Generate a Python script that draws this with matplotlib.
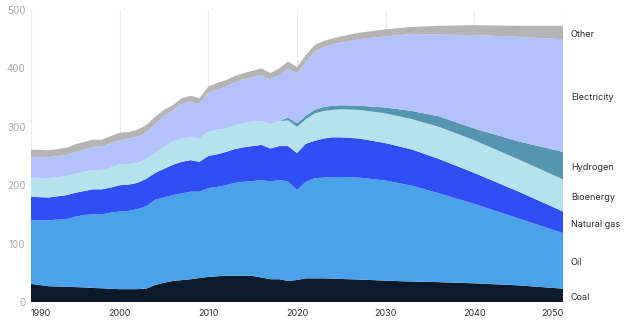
import matplotlib
matplotlib.use('Agg')
import matplotlib.pyplot as plt
import numpy as np

# -- data (values per sector, stacked) --
years = [1990, 1992, 1994, 1995, 1996, 1997, 1998, 1999, 2000, 2001, 2002, 2003,
         2004, 2005, 2006, 2007, 2008, 2009, 2010, 2011, 2012, 2013, 2014, 2015,
         2016, 2017, 2018, 2019, 2020, 2021, 2022, 2023, 2024, 2025, 2027, 2030,
         2033, 2036, 2040, 2045, 2050]

coal = [31, 27, 26, 25.5, 25, 24, 23.5, 22.5, 22, 22, 22, 23,
        29, 33, 36, 37.5, 39, 41, 43, 44, 45, 45, 45, 44.5,
        42, 39, 39, 36, 37.7, 40.5, 40.5, 40.5, 40, 39.4, 38.5, 36.5,
        35, 34, 32, 28.5, 22.8]
oil = [109, 113, 116, 120.5, 124, 126, 126.5, 130.5, 133, 134, 137, 141,
       146, 146, 147, 148.5, 150, 148, 152, 153, 155, 159, 161, 162.5,
       167, 167, 170, 170, 154.3, 165.5, 171.5, 172.5, 174, 174.6, 174.5, 171.5,
       164, 152, 136, 114.5, 95.2]
natural_gas = [40, 39, 41, 41, 41, 43, 43, 43, 45, 45, 45, 47,
               46, 49, 52, 54, 54, 51, 55, 56, 57, 58, 59, 60,
               60, 57, 58, 61, 63, 65, 64, 67, 68, 68, 67, 64,
               62, 59, 53, 46, 37]
bioenergy = [33, 33, 33, 32, 33, 33, 33, 34, 36, 35, 34, 33,
             34, 38, 40, 40, 39, 40, 42, 42, 40, 41, 41, 42,
             41, 42, 43, 44, 45, 42, 47, 47, 47, 48, 49, 51,
             52, 55, 56, 55, 55]
hydrogen = [0, 0, 0, 0, 0, 0, 0, 0, 0, 0, 0, 0,
            0, 0, 0, 0, 0, 0, 0, 0, 0, 0, 0, 0,
            0, 0, 0, 5, 6, 6, 6, 7, 7, 7, 7, 10,
            14, 18, 20, 31, 47]
electricity = [35, 36, 36, 38, 38, 40, 40, 42, 41, 44, 45, 46,
               50, 52, 53, 59, 61, 59, 67, 69, 72, 73, 75, 76,
               78, 76, 79, 84, 85, 92, 100, 102, 105, 107, 114, 122,
               132, 140, 160, 179, 193]
other = [13, 12, 12, 13, 13, 12, 12, 12, 13, 11, 12, 13,
         12, 11, 9, 10, 10, 10, 10, 11, 11, 11, 11, 11,
         12, 11, 11, 12, 11, 12, 11, 11, 10, 11, 11, 12,
         12, 15, 17, 19, 23]

labels = ['Coal', 'Oil', 'Natural gas', 'Bioenergy', 'Hydrogen', 'Electricity', 'Other']
colors = ['#0d1a2b', '#4aa3ea', '#2f4ff5', '#b6e2ee', '#5595b0', '#b3c2fb', '#b4b4b4']

plt.rcParams['font.family'] = ['Inter', 'DejaVu Sans']

fig = plt.figure(figsize=(6.4, 3.25), dpi=100)
ax = fig.add_axes([31/640, 1 - 302/325, (563 - 31)/640, 292/325])

series = [coal, oil, natural_gas, bioenergy, hydrogen, electricity, other]
ax.stackplot(years, *series, colors=colors, linewidth=0)

# decade grid lines behind the areas
for yr in range(1990, 2051, 10):
    ax.axvline(yr, color='#ececec', linewidth=0.8, zorder=0)

ax.set_xlim(1990, 2050)
ax.set_ylim(0, 500)
ax.set_yticks([0, 100, 200, 300, 400, 500])
ax.set_xticks(list(range(1990, 2051, 10)))
ax.tick_params(axis='y', length=0, labelsize=7, labelcolor='#a8a8a8', pad=4)
ax.tick_params(axis='x', length=0, labelsize=6.5, labelcolor='#333333', pad=5)
xt = ax.get_xticklabels()
xt[0].set_ha('left')
xt[-1].set_ha('right')
for s in ax.spines.values():
    s.set_visible(False)

# labels on the right, centred on the last band
cum = np.cumsum([s[-1] for s in series])
prev = 0
for name, top in zip(labels, cum):
    mid = (prev + top) / 2
    ax.text(2050.9, mid - 3, name, fontsize=6.5, color='#2a2a2a',
            va='center', ha='left', clip_on=False)
    prev = top

fig.savefig('out.png', dpi=100)
